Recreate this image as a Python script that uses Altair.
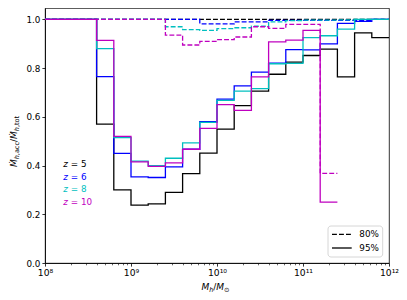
import altair as alt
import pandas as pd

# ---------------- data ----------------
LOG_EDGES = [8.0, 8.2, 8.4, 8.6, 8.8, 9.0, 9.2, 9.4, 9.6, 9.8, 10.0,
             10.2, 10.4, 10.6, 10.8, 11.0, 11.2, 11.4, 11.6, 11.8, 12.0]

REDSHIFTS = ["5", "6", "8", "10"]
COLORS = ["#000000", "#0000ff", "#00bfbf", "#bf00bf"]
LEVELS = ["80%", "95%"]

# 95% (solid)
Z5_95 = [1, 1, 1, 0.57, 0.30, 0.238, 0.243, 0.29, 0.367, 0.451, 0.55,
         0.646, 0.706, 0.775, 0.825, 0.852, 0.878, 0.764, 0.945, 0.925]
Z6_95 = [1, 1, 1, 0.765, 0.45, 0.354, 0.351, 0.395, 0.467, 0.58, 0.673,
         0.727, 0.784, 0.821, 0.876, 0.875, 0.90, 0.984, 0.992, 1.0]
Z8_95 = [1, 1, 1, 0.88, 0.515, 0.418, 0.40, 0.43, 0.493, 0.577, 0.668,
         0.706, 0.716, 0.818, 0.82, 0.925, 0.933, 0.96, 1.0, 1.0]
Z10_95 = [1, 1, 1, 0.914, 0.52, 0.415, 0.397, 0.411, 0.467, 0.553, 0.65,
          0.627, 0.764, 0.908, 0.915, 0.955, 0.25, None, None, None]

# 80% (dashed)
Z5_80 = [1, 1, 1, 1, 1, 1, 1, 1, 1, 1, 1,
         1, 1, 1, 1, 1, 1, 1, 1, 1]
Z6_80 = [1, 1, 1, 1, 1, 1, 1, 1, 1, 0.982, 0.982,
         0.99, 0.99, 0.996, 0.996, 0.996, 0.996, 0.996, 0.996, 1.0]
Z8_80 = [1, 1, 1, 1, 1, 1, 1, 0.97, 0.958, 0.955, 0.962,
         0.966, 0.972, 0.99, 0.995, 0.997, 0.997, 0.998, 1.0, 1.0]
Z10_80 = [1, 1, 1, 1, 1, 1, 1, 0.936, 0.895, 0.91, 0.917,
          0.928, 0.97, 0.963, 0.98, 0.98, 0.368, None, None, None]

SERIES = {
    "5": {"80%": Z5_80, "95%": Z5_95},
    "6": {"80%": Z6_80, "95%": Z6_95},
    "8": {"80%": Z8_80, "95%": Z8_95},
    "10": {"80%": Z10_80, "95%": Z10_95},
}

MAJOR_TICKS = [1e8, 1e9, 1e10, 1e11, 1e12]
MINOR_TICKS = [k * 10.0 ** e for e in range(8, 12) for k in range(2, 10)]
Y_TICKS = [0.0, 0.2, 0.4, 0.6, 0.8, 1.0]


def step_rows(z, level, vals):
    rows = []
    last = None
    for i, v in enumerate(vals):
        if v is None:
            break
        rows.append({"mass": 10.0 ** LOG_EDGES[i], "frac": v, "z": z, "level": level})
        last = i
    rows.append({"mass": 10.0 ** LOG_EDGES[last + 1], "frac": vals[last], "z": z, "level": level})
    return rows


# ---------------- styling ----------------
W, H = 344, 255
FONT = "DejaVu Sans"
LW = 1.3
DASH = [4.9, 2.1]

x_scale = alt.Scale(type="log", domain=[1e8, 1e12], nice=False)
y_scale = alt.Scale(domain=[0, 1.047], nice=False, zero=False)

label_expr = ("datum.value < 5e8 ? '10⁸' : datum.value < 5e9 ? '10⁹' : "
              "datum.value < 5e10 ? '10¹⁰' : datum.value < 5e11 ? '10¹¹' : '10¹²'")

x_axis = alt.Axis(values=MAJOR_TICKS, labelExpr=label_expr, tickSize=3.1, tickWidth=0.8,
                  tickColor="black", domainColor="black", domainWidth=0.8,
                  labelFontSize=9.2, labelColor="black", labelPadding=2, grid=False,
                  title=None, orient="bottom", labelFlush=False, labelFont=FONT)
y_axis = alt.Axis(values=Y_TICKS, format=".1f", tickSize=3.1, tickWidth=0.8,
                  tickColor="black", domainColor="black", domainWidth=0.8,
                  labelFontSize=8.8, labelColor="black", labelPadding=2, grid=False,
                  title=None, orient="left", labelFont=FONT)
minor_axis = alt.Axis(values=MINOR_TICKS, labels=False, tickSize=1.8, tickWidth=0.6,
                      tickColor="black", domain=False, grid=False, orient="bottom",
                      title=None)

layers = []
for i, z in enumerate(REDSHIFTS):
    rows = []
    for level in LEVELS:
        rows += step_rows(z, level, SERIES[z][level])
    df = pd.DataFrame(rows)
    layers.append(
        alt.Chart(df).mark_line(interpolate="step-after", strokeWidth=LW, color=COLORS[i]).encode(
            x=alt.X("mass:Q", scale=x_scale, axis=x_axis if i == 0 else None),
            y=alt.Y("frac:Q", scale=y_scale, axis=y_axis),
            strokeDash=alt.StrokeDash("level:N",
                                      scale=alt.Scale(domain=LEVELS, range=[DASH, [1, 0]]),
                                      legend=None),
            detail="level:N",
        )
    )

layers.append(
    alt.Chart(pd.DataFrame({"mass": MINOR_TICKS})).mark_point(opacity=0).encode(
        x=alt.X("mass:Q", scale=x_scale, axis=minor_axis)
    )
)

BLANK = alt.Data(values=[{}])

WIDTHS = {"Ṁ": 0.863, "M": 0.863, "h": 0.634, ",": 0.318, "a": 0.613, "c": 0.550,
          "/": 0.337, "t": 0.392, "o": 0.612, "⊙": 0.838, "z": 0.525, " ": 0.318,
          "=": 0.838, "%": 0.95}


def text_width(s, size):
    return sum(WIDTHS.get(ch, 0.636) for ch in s) * size


def text_piece(txt, x, y, size, color="black", italic=False, angle=0,
               align="left", baseline="alphabetic"):
    kw = dict(text=txt, fontSize=size, color=color, align=align, baseline=baseline, font=FONT)
    if italic:
        kw["fontStyle"] = "italic"
    if angle:
        kw["angle"] = angle
    return alt.Chart(BLANK).mark_text(**kw).encode(x=alt.value(x), y=alt.value(y))


MAIN, SUB, SHIFT = 9, 6.5, 2.2

# y title: Ṁ_{h,acc}/Ṁ_{h,tot}, rotated
y_pieces = [("Ṁ", False, True), ("h", True, True), (",acc", True, False),
            ("/", False, False), ("Ṁ", False, True), ("h", True, True), (",tot", True, False)]
total = sum(text_width(t, SUB if s else MAIN) for t, s, _ in y_pieces)
cur = H / 2 + 6 + total / 2
for t, sub, it in y_pieces:
    size = SUB if sub else MAIN
    layers.append(text_piece(t, -28.5 + (SHIFT if sub else 0), cur, size, italic=it, angle=270))
    cur -= text_width(t, size)

# x title: M_h/M_⊙
x_pieces = [("M", False, True), ("h", True, True), ("/", False, False),
            ("M", False, True), ("⊙", True, False)]
total = sum(text_width(t, SUB if s else MAIN) for t, s, _ in x_pieces)
cur = W / 2 - 1.5 - total / 2
for t, sub, it in x_pieces:
    size = SUB if sub else MAIN
    layers.append(text_piece(t, cur, 282 + (SHIFT if sub else 0), size, italic=it))
    cur += text_width(t, size)

# left legend: coloured labels
for i, z in enumerate(REDSHIFTS):
    yy = 155.7 + i * 12.8
    layers.append(text_piece("z", 18.3, yy, 8.8, color=COLORS[i], italic=True, baseline="middle"))
    layers.append(text_piece("= " + z, 18.3 + text_width("z ", 8.8), yy, 8.8,
                             color=COLORS[i], baseline="middle"))

# right legend: box with line styles
layers.append(
    alt.Chart(BLANK).mark_rect(cornerRadius=3, fill="white", fillOpacity=0.8,
                               stroke="#cccccc", strokeWidth=0.8).encode(
        x=alt.value(283), x2=alt.value(337.7), y=alt.value(218), y2=alt.value(249))
)
for j, level in enumerate(LEVELS):
    yy = 226.3 + j * 13.7
    rule_kw = dict(color="black", strokeWidth=LW)
    if level == "80%":
        rule_kw["strokeDash"] = DASH
    layers.append(
        alt.Chart(BLANK).mark_rule(**rule_kw).encode(
            x=alt.value(287), x2=alt.value(306.7), y=alt.value(yy))
    )
    layers.append(text_piece(level, 314.3, yy, 8.8, baseline="middle"))

chart = (
    alt.layer(*layers)
    .resolve_axis(x="independent")
    .properties(width=W, height=H,
                autosize=alt.AutoSizeParams(type="none"),
                padding={"left": 37, "top": 0, "right": 10, "bottom": 32})
    .configure(font=FONT)
    .configure_view(stroke="black", strokeWidth=0.8)
)

chart.save("out.html", embed_options={"renderer": "svg", "actions": False})
